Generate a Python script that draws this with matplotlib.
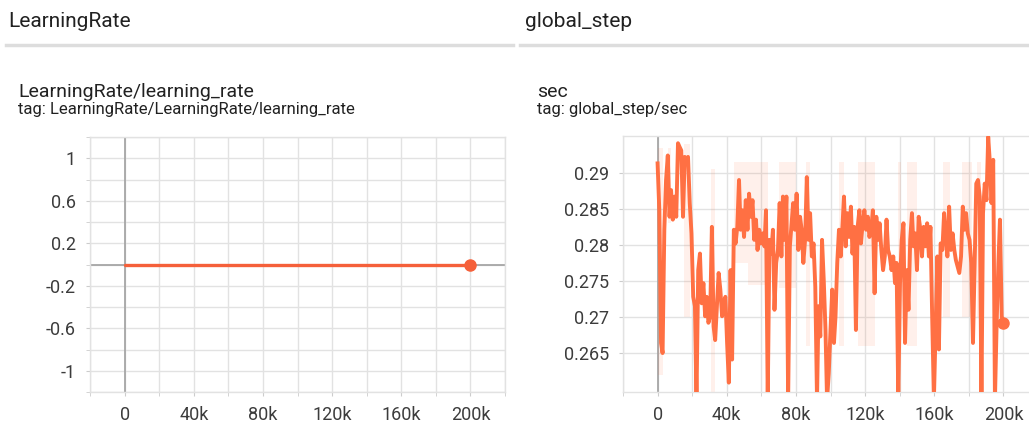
import numpy as np
import matplotlib
matplotlib.use("Agg")
import matplotlib.pyplot as plt
from matplotlib.lines import Line2D

plt.rcParams['font.family'] = ['Roboto', 'DejaVu Sans']

# LearningRate/learning_rate  (constant)
lr_steps_k = [0, 200]
lr_values = [0.0, 0.0]

# global_step/sec, smoothed curve (step in thousands)
sec_steps_k = [
    0.0, 1.0, 2.0, 2.9, 3.9, 4.9, 5.9, 6.9, 7.8, 8.8, 9.8, 10.8, 11.8, 12.7, 13.7, 14.7, 15.7,
    16.7, 17.6, 18.6, 19.6, 20.6, 21.6, 22.5, 23.5, 24.5, 25.5, 26.5, 27.5, 28.4, 29.4, 30.4,
    31.4, 32.4, 33.3, 34.3, 35.3, 36.3, 37.3, 38.2, 39.2, 40.2, 41.2, 42.2, 43.1, 44.1, 45.1,
    46.1, 47.1, 48.0, 49.0,
    50.0, 51.0, 52.0, 52.9, 53.9, 54.9, 55.9, 56.9, 57.8, 58.8, 59.8, 60.8, 61.8, 62.7, 63.7,
    64.7, 65.7, 66.7, 67.6, 68.6, 69.6, 70.6, 71.6, 72.5, 73.5, 74.5, 75.5, 76.5, 77.5, 78.4,
    79.4, 80.4, 81.4, 82.4, 83.3, 84.3, 85.3, 86.3, 87.3, 88.2, 89.2, 90.2, 91.2, 92.2, 93.1,
    94.1, 95.1, 96.1, 97.1, 98.0, 99.0,
    100.0, 101.0, 102.0, 102.9, 103.9, 104.9, 105.9, 106.9, 107.8, 108.8, 109.8, 110.8, 111.8,
    112.7, 113.7, 114.7, 115.7, 116.7, 117.6, 118.6, 119.6, 120.6, 121.6, 122.5, 123.5, 124.5,
    125.5, 126.5, 127.5, 128.4, 129.4, 130.4, 131.4, 132.4, 133.3, 134.3, 135.3, 136.3, 137.3,
    138.2, 139.2, 140.2, 141.2, 142.2, 143.1, 144.1, 145.1, 146.1, 147.1, 148.0, 149.0,
    150.0, 151.0, 152.0, 152.9, 153.9, 154.9, 155.9, 156.9, 157.8, 158.8, 159.8, 160.8, 161.8,
    162.7, 163.7, 164.7, 165.7, 166.7, 167.6, 168.6, 169.6, 170.6, 171.6, 172.5, 173.5, 174.5,
    175.5, 176.5, 177.5, 178.4, 179.4, 180.4, 181.4, 182.4, 183.3, 184.3, 185.3, 186.3, 187.3,
    188.2, 189.2, 190.2, 191.2, 192.2, 193.1, 194.1, 195.1, 196.1, 197.1, 198.0, 199.0,
    200.0,
]
sec_values = [
    0.2913, 0.2848, 0.2664, 0.2650, 0.2821, 0.2890, 0.2924, 0.2839, 0.2876, 0.2835, 0.2867,
    0.2839, 0.2941, 0.2936, 0.2931, 0.2839, 0.2922, 0.2913, 0.2922, 0.2858, 0.2816, 0.2728,
    0.2715, 0.2585, 0.2765, 0.2788, 0.2719, 0.2747, 0.2701, 0.2728, 0.2692, 0.2701, 0.2825,
    0.2687, 0.2668, 0.2715, 0.2761, 0.2738, 0.2701, 0.2719, 0.2728, 0.2664, 0.2609, 0.2765,
    0.2641, 0.2821, 0.2802, 0.2825, 0.2890, 0.2821, 0.2848, 0.2811, 0.2862, 0.2821, 0.2871,
    0.2839, 0.2862, 0.2807, 0.2835, 0.2793, 0.2821, 0.2802, 0.2816, 0.2798, 0.2848, 0.2585,
    0.2807, 0.2788, 0.2821, 0.2710, 0.2775, 0.2793, 0.2858, 0.2784, 0.2867, 0.2807, 0.2867,
    0.2585, 0.2798, 0.2830, 0.2858, 0.2821, 0.2871, 0.2793, 0.2839, 0.2821, 0.2775, 0.2807,
    0.2894, 0.2807, 0.2844, 0.2784, 0.2802, 0.2742, 0.2585, 0.2715, 0.2673, 0.2807, 0.2751,
    0.2682, 0.2585, 0.2622, 0.2682, 0.2738, 0.2664, 0.2701, 0.2775, 0.2821, 0.2784, 0.2825,
    0.2867, 0.2798, 0.2844, 0.2811, 0.2853, 0.2788, 0.2825, 0.2682, 0.2825, 0.2848, 0.2802,
    0.2830, 0.2848, 0.2821, 0.2839, 0.2811, 0.2821, 0.2848, 0.2733, 0.2839, 0.2807, 0.2830,
    0.2793, 0.2765, 0.2784, 0.2835, 0.2793, 0.2784, 0.2765, 0.2784, 0.2747, 0.2775, 0.2585,
    0.2747, 0.2807, 0.2830, 0.2664, 0.2765, 0.2710, 0.2807, 0.2844, 0.2798, 0.2816, 0.2765,
    0.2839, 0.2821, 0.2784, 0.2825, 0.2798, 0.2830, 0.2784, 0.2825, 0.2701, 0.2585, 0.2682,
    0.2784, 0.2655, 0.2802, 0.2793, 0.2844, 0.2811, 0.2784, 0.2853, 0.2793, 0.2816, 0.2793,
    0.2779, 0.2770, 0.2761, 0.2784, 0.2853, 0.2821, 0.2844, 0.2816, 0.2807, 0.2775, 0.2664,
    0.2765, 0.2885, 0.2890, 0.2867, 0.2585, 0.2844, 0.2885, 0.2862, 0.2950, 0.2913, 0.2858,
    0.2918, 0.2585, 0.2692, 0.2775, 0.2835, 0.2701, 0.2692,
]

# faint raw-data bands behind the smoothed curve (step in thousands)
band_start_k = [0.5, 6.0, 15.0, 31.0, 44.0, 52.0, 70.0, 86.0, 105.0, 116.0, 139.0, 144.0, 165.0, 176.0, 185.0]
band_end_k = [3.0, 8.0, 19.0, 33.0, 52.0, 64.0, 80.0, 88.0, 108.0, 126.0, 141.0, 150.0, 169.0, 182.0, 187.0]
band_low = [0.2620, 0.2830, 0.2700, 0.2585, 0.2775, 0.2745, 0.2740, 0.2660, 0.2660, 0.2660, 0.2680, 0.2660, 0.2700, 0.2700, 0.2700]
band_high = [0.2935, 0.2935, 0.2940, 0.2905, 0.2915, 0.2915, 0.2915, 0.2915, 0.2915, 0.2915, 0.2915, 0.2915, 0.2915, 0.2915, 0.2915]

x_major_k = [0, 40, 80, 120, 160, 200]
x_minor_k = [-20, 20, 60, 100, 140, 180, 220]
x_labels = ['0', '40k', '80k', '120k', '160k', '200k']

lr_yticks = [-1, -0.6, -0.2, 0.2, 0.6, 1]
lr_ylabels = ['-1', '-0.6', '-0.2', '0.2', '0.6', '1']
lr_yminor = [-1.2, -0.8, -0.4, 0, 0.4, 0.8, 1.2]

sec_yticks = [0.265, 0.27, 0.275, 0.28, 0.285, 0.29]
sec_ylabels = ['0.265', '0.27', '0.275', '0.28', '0.285', '0.29']

line_color = '#ff7043'
grid_color = '#e2e2e2'
zero_color = '#a0a0a0'
text_color = '#212121'
tick_color = '#3c3c3c'

fig = plt.figure(figsize=(10.29, 4.22), dpi=100)
fig.patch.set_facecolor('white')


def style_axes(ax, yticks, ylabels, yminor=None):
    ax.set_xticks([v * 1000 for v in x_major_k])
    ax.set_xticklabels(x_labels)
    ax.set_xticks([v * 1000 for v in x_minor_k], minor=True)
    ax.set_yticks(yticks)
    ax.set_yticklabels(ylabels)
    if yminor is not None:
        ax.set_yticks(yminor, minor=True)
    ax.grid(True, which='both', color=grid_color, linewidth=1.0, zorder=0)
    ax.set_axisbelow(True)
    for s in ax.spines.values():
        s.set_color(grid_color)
        s.set_linewidth(1.0)
    ax.tick_params(which='both', length=3, color='#cccccc', labelsize=13,
                   labelcolor=tick_color, pad=7)
    ax.axvline(0, color=zero_color, linewidth=1.2, zorder=1)


# left panel: learning rate
ax1 = fig.add_axes([90 / 1029, 30 / 422, 415 / 1029, 255 / 422])
ax1.set_xlim(-20000, 220000)
ax1.set_ylim(-1.2, 1.2)
style_axes(ax1, lr_yticks, lr_ylabels, lr_yminor)
ax1.axhline(0, color=zero_color, linewidth=1.2, zorder=1)
ax1.plot([v * 1000 for v in lr_steps_k], lr_values, color='#f5603a', linewidth=2.4,
         solid_capstyle='round', zorder=3)
ax1.plot(lr_steps_k[-1] * 1000, lr_values[-1], 'o', color='#f5603a', markersize=8, zorder=4)

# right panel: global_step/sec
ax2 = fig.add_axes([623 / 1029, 30 / 422, 415 / 1029, 256 / 422])
ax2.set_xlim(-20000, 220000)
ax2.set_ylim(0.2596, 0.2951)
style_axes(ax2, sec_yticks, sec_ylabels)
for s, e, lo, hi in zip(band_start_k, band_end_k, band_low, band_high):
    ax2.fill_between([s * 1000, e * 1000], [lo, lo], [hi, hi], color=line_color,
                     alpha=0.1, linewidth=0, zorder=2)
ax2.plot([v * 1000 for v in sec_steps_k], sec_values, color=line_color, linewidth=2.8,
         solid_joinstyle='round', zorder=3)
ax2.plot(sec_steps_k[-1] * 1000, sec_values[-1], 'o', color=line_color, markersize=8,
         zorder=4, clip_on=False)

# headers and titles
fig.text(8 / 1029, 1 - 27 / 422, 'LearningRate', fontsize=15, color=text_color, va='baseline')
fig.text(525 / 1029, 1 - 27 / 422, 'global_step', fontsize=15, color=text_color, va='baseline')
fig.add_artist(Line2D([6 / 1029, 513 / 1029], [1 - 45 / 422] * 2, color='#dddddd', linewidth=2.5))
fig.add_artist(Line2D([520 / 1029, 1.0], [1 - 45 / 422] * 2, color='#dddddd', linewidth=2.5))

fig.text(18 / 1029, 1 - 97 / 422, 'LearningRate/learning_rate', fontsize=14,
         color=text_color, va='baseline')
fig.text(18 / 1029, 1 - 114 / 422, 'tag: LearningRate/LearningRate/learning_rate',
         fontsize=12, color=text_color, va='baseline')
fig.text(537 / 1029, 1 - 97 / 422, 'sec', fontsize=14, color=text_color, va='baseline')
fig.text(537 / 1029, 1 - 114 / 422, 'tag: global_step/sec', fontsize=12,
         color=text_color, va='baseline')

fig.savefig('out.png', dpi=100, facecolor='white')
